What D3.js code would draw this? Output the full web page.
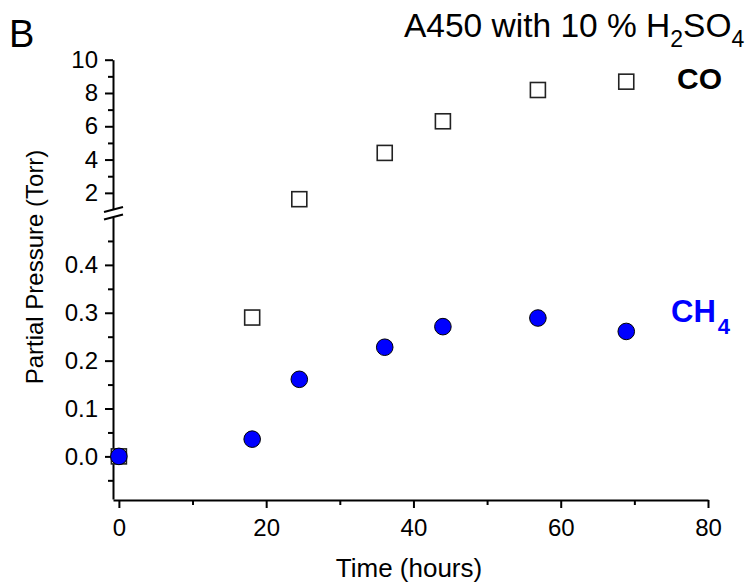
<!DOCTYPE html>
<html>
<head>
<meta charset="utf-8">
<script src="https://cdn.jsdelivr.net/npm/d3@7"></script>
<style>
  body { margin: 0; background: #fff; }
  svg { font-family: "Liberation Sans", Arial, sans-serif; }
  .axis path, .axis line { stroke: #000; stroke-width: 2; }
  .axis text { font-size: 24px; fill: #000; }
</style>
</head>
<body>
<div id="chart"></div>
<script>
// data
var time = [0, 18.1, 24.5, 36.1, 44.0, 56.9, 68.9];
var co = [0, 0.29, 1.62, 4.4, 6.3, 8.18, 8.68];
var ch4 = [0, 0.036, 0.161, 0.228, 0.271, 0.289, 0.261];

var xTicks = [0, 20, 40, 60, 80];
var xMinor = [10, 30, 50, 70];
var yUpperTicks = [2, 4, 6, 8, 10];
var yUpperMinor = [3, 5, 7, 9];
var yLowerTicks = [0, 0.1, 0.2, 0.3, 0.4];
var yLowerMinor = [-0.05, 0.05, 0.15, 0.25, 0.35, 0.45];

var width = 755, height = 586;

var svg = d3.select("#chart").append("svg")
    .attr("width", width)
    .attr("height", height);

//scales, the y axis is broken in two parts
var x = d3.scaleLinear().domain([-0.8, 80]).range([113, 708]);
var yUp = d3.scaleLinear().domain([1, 10]).range([209.5, 59.7]);
var yLow = d3.scaleLinear().domain([-0.089, 0.5]).range([499, 217]);
var y = (v) => v > 0.5 ? yUp(v) : yLow(v);

//x axis
svg.append("g").attr("class", "axis")
    .attr("transform", "translate(0,500)")
    .call(d3.axisBottom(x).tickValues(xTicks).tickSize(8).tickSizeOuter(0).tickPadding(6))
    .selectAll("text").attr("dy", "0.9em");
svg.append("g").attr("class", "axis")
    .attr("transform", "translate(0,500)")
    .call(d3.axisBottom(x).tickValues(xMinor).tickSize(5).tickSizeOuter(0).tickFormat(""))
    .select(".domain").remove();

//y axis upper part
svg.append("g").attr("class", "axis")
    .attr("transform", "translate(113,0)")
    .call(d3.axisLeft(yUp).tickValues(yUpperTicks).tickSize(8).tickSizeOuter(0).tickPadding(7));
svg.append("g").attr("class", "axis")
    .attr("transform", "translate(113,0)")
    .call(d3.axisLeft(yUp).tickValues(yUpperMinor).tickSize(5).tickSizeOuter(0).tickFormat(""))
    .select(".domain").remove();

//y axis lower part
svg.append("g").attr("class", "axis")
    .attr("transform", "translate(113,0)")
    .call(d3.axisLeft(yLow).tickValues(yLowerTicks).tickSize(8).tickSizeOuter(0).tickPadding(7)
        .tickFormat(d3.format(".1f")));
svg.append("g").attr("class", "axis")
    .attr("transform", "translate(113,0)")
    .call(d3.axisLeft(yLow).tickValues(yLowerMinor).tickSize(5).tickSizeOuter(0).tickFormat(""))
    .select(".domain").remove();

//break marks
[yUp.range()[0], yLow.range()[1]].forEach((yy) => {
    svg.append("line")
        .attr("x1", 104).attr("y1", yy + 2.5)
        .attr("x2", 123).attr("y2", yy - 2.5)
        .attr("stroke", "#000").attr("stroke-width", 2);
});

//CO squares first, methane circles on top
var s = 15;
svg.append("g").selectAll("rect")
    .data(time)
    .enter().append("rect")
    .attr("x", (d) => x(d) - s / 2)
    .attr("y", (d, i) => y(co[i]) - s / 2)
    .attr("width", s)
    .attr("height", s)
    .style("fill", "#fff")
    .style("stroke", "#222")
    .style("stroke-width", 1.6);

svg.append("g").selectAll("circle")
    .data(time)
    .enter().append("circle")
    .attr("cx", (d) => x(d))
    .attr("cy", (d, i) => y(ch4[i]))
    .attr("r", 8.3)
    .style("fill", "#0000ff")
    .style("stroke", "#000")
    .style("stroke-width", 1);

//labels
svg.append("text")
    .attr("x", 9).attr("y", 47)
    .style("font-size", "38px")
    .text("B");

var title = svg.append("text")
    .attr("x", 404).attr("y", 37)
    .style("font-size", "33.5px");
title.append("tspan").text("A450 with 10 % H");
title.append("tspan").attr("dy", 10).style("font-size", "23px").text("2");
title.append("tspan").attr("dy", -10).text("SO");
title.append("tspan").attr("dy", 10).style("font-size", "23px").text("4");

svg.append("text")
    .attr("x", 677).attr("y", 89)
    .style("font-size", "30px")
    .style("font-weight", "bold")
    .text("CO");

var ch = svg.append("text")
    .attr("x", 671).attr("y", 322)
    .style("font-size", "31px")
    .style("font-weight", "bold")
    .style("fill", "#0000ff");
ch.append("tspan").text("CH");
ch.append("tspan").attr("dy", 12).attr("dx", 2).style("font-size", "22px").text("4");

svg.append("text")
    .attr("x", 409).attr("y", 577)
    .style("text-anchor", "middle")
    .style("font-size", "26px")
    .text("Time (hours)");

svg.append("text")
    .attr("transform", "translate(43,267) rotate(-90)")
    .style("text-anchor", "middle")
    .style("font-size", "24px")
    .text("Partial Pressure (Torr)");
</script>
</body>
</html>
